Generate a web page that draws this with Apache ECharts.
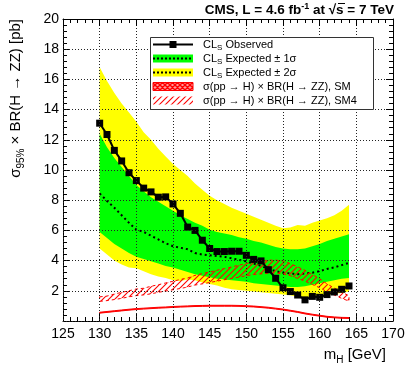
<!DOCTYPE html>
<html>
<head>
<meta charset="utf-8">
<script src="https://cdn.jsdelivr.net/npm/echarts@6/dist/echarts.min.js"></script>
<style>
  html, body { margin: 0; padding: 0; background: #fff; }
  #chart { width: 415px; height: 379px; }
</style>
</head>
<body>
<div id="chart"></div>
<script>
// Higgs mass points, GeV
var mass = [130,131,132,133,134,135,136,137,138,139,140,141,142,143,144,145,146,147,148,149,150,151,152,153,154,155,156,157,158,159,160,161,162,163,164];
// observed CLs limit, pb
var observed = [13.1,12.35,11.3,10.6,9.82,9.3,8.8,8.55,8.2,8.22,7.75,7.13,6.22,6.0,5.35,4.8,4.6,4.6,4.62,4.62,4.35,4.08,3.98,3.4,2.83,2.2,1.95,1.72,1.4,1.63,1.57,1.75,1.92,2.1,2.32];
// expected median and bands
var expMedian = [8.45,7.95,7.5,7.0,6.5,6.05,5.9,5.65,5.4,5.15,4.95,4.85,4.75,4.5,4.4,4.35,4.3,4.25,4.15,4.05,3.95,3.8,3.65,3.45,3.3,3.2,3.15,3.1,3.15,3.2,3.3,3.45,3.55,3.7,3.85];
var exp1Hi = [12.4,11.5,10.8,10.2,9.6,9.0,8.6,8.2,7.9,7.6,7.3,7.0,6.75,6.5,6.3,6.05,5.9,5.8,5.7,5.55,5.45,5.3,5.2,5.05,4.9,4.8,4.75,4.75,4.8,4.95,5.1,5.3,5.45,5.6,5.75];
var exp1Lo = [5.9,5.5,5.1,4.8,4.5,4.25,4.1,3.95,3.8,3.65,3.55,3.4,3.25,3.1,3.0,2.9,2.8,2.75,2.7,2.65,2.6,2.5,2.45,2.4,2.35,2.3,2.25,2.25,2.3,2.4,2.5,2.6,2.7,2.8,2.85];
var exp2Hi = [16.8,15.9,15.1,14.4,13.8,13.2,12.5,12.0,11.4,10.9,10.4,10.0,9.6,9.1,8.7,8.3,8.0,7.75,7.5,7.3,7.1,6.9,6.7,6.5,6.3,6.15,6.2,6.35,6.3,6.5,6.65,6.8,7.0,7.3,7.7];
var exp2Lo = [4.8,4.4,4.0,3.75,3.55,3.5,3.3,3.1,2.95,2.85,2.7,2.65,2.75,2.7,2.55,2.45,2.35,2.2,2.1,2.05,2.0,1.95,1.9,1.85,1.8,1.75,1.7,1.6,1.5,1.55,1.6,1.7,1.8,1.85,1.95];
// sigma x BR, SM and SM4
var smLo = [0.52,0.57,0.62,0.67,0.72,0.76,0.79,0.82,0.85,0.87,0.9,0.92,0.94,0.96,0.97,0.98,0.98,0.98,0.98,0.97,0.95,0.93,0.89,0.85,0.79,0.73,0.65,0.57,0.47,0.39,0.32,0.25,0.21,0.18,0.17];
var smHi = [0.58,0.63,0.68,0.73,0.78,0.82,0.85,0.88,0.91,0.93,0.96,0.98,1.0,1.02,1.03,1.04,1.04,1.04,1.04,1.03,1.01,0.99,0.95,0.91,0.85,0.79,0.71,0.63,0.53,0.45,0.38,0.31,0.27,0.24,0.23];
var sm4Lo = [1.3,1.35,1.42,1.5,1.6,1.68,1.73,1.8,1.9,1.98,2.07,2.15,2.25,2.38,2.46,2.55,2.64,2.73,2.82,2.9,3.0,3.08,3.12,3.17,3.17,3.12,3.0,2.82,2.64,2.42,2.2,1.94,1.72,1.5,1.32];
var sm4Hi = [1.6,1.65,1.78,1.9,2.0,2.12,2.17,2.3,2.4,2.52,2.63,2.75,2.85,3.02,3.14,3.25,3.36,3.47,3.58,3.7,3.8,3.92,3.98,4.03,4.03,3.98,3.8,3.58,3.36,3.08,2.8,2.46,2.18,1.9,1.68];

var FONT = 'Liberation Sans';

function makePattern(cross, size, lw) {
  var c = document.createElement('canvas');
  c.width = size; c.height = size;
  var g = c.getContext('2d');
  var h = size / 2;
  if (cross) { g.fillStyle = 'rgba(255,90,90,0.6)'; g.fillRect(0, 0, size, size); }
  g.strokeStyle = '#ff0000';
  g.lineWidth = lw;
  g.beginPath();
  g.moveTo(0, size); g.lineTo(size, 0);
  g.moveTo(-h, h); g.lineTo(h, -h);
  g.moveTo(h, size + h); g.lineTo(size + h, h);
  if (cross) {
    g.moveTo(0, 0); g.lineTo(size, size);
    g.moveTo(-h, h); g.lineTo(h, size + h);
    g.moveTo(h, -h); g.lineTo(size + h, h);
  }
  g.stroke();
  return c;
}
var hatch = makePattern(false, 6, 1.1);
var crossHatch = makePattern(true, 5, 1.4);

function band(lo, hi, style, z) {
  return {
    type: 'custom', z: z, silent: true, data: [[mass[0], lo[0]]],
    renderItem: function (params, api) {
      var pts = [];
      for (var i = 0; i < mass.length; i++) pts.push(api.coord([mass[i], hi[i]]));
      for (var j = mass.length - 1; j >= 0; j--) pts.push(api.coord([mass[j], lo[j]]));
      return { type: 'polygon', shape: { points: pts }, style: style };
    }
  };
}

function pairs(ys) {
  return mass.map(function (m, i) { return [m, ys[i]]; });
}

var chart = echarts.init(document.getElementById('chart'));

var tickLine = { color: '#000', width: 1 };
var axisBase = function (min, max, interval) {
  return {
    type: 'value', min: min, max: max, interval: interval,
    axisLine: { show: true, onZero: false, lineStyle: { color: '#000', width: 1 } },
    axisTick: { show: true, inside: true, length: 7, lineStyle: tickLine },
    minorTick: { show: true, splitNumber: 5, length: 4, lineStyle: tickLine }
  };
};

var xMain = axisBase(125, 170, 5);
xMain.position = 'bottom';
xMain.axisLabel = { color: '#000', fontSize: 14, fontFamily: FONT, margin: 6 };
xMain.splitLine = { show: false };
var xTop = axisBase(125, 170, 5);
xTop.position = 'top';
xTop.z = 10;
xTop.axisLabel = { show: false };
xTop.splitLine = { show: true, lineStyle: { color: '#222', width: 1, type: [1, 2] } };

var yMain = axisBase(0, 20, 2);
yMain.position = 'left';
yMain.axisLabel = {
  color: '#000', fontSize: 14, fontFamily: FONT, margin: 4,
  formatter: function (v) { return v === 0 ? '' : v; }
};
yMain.splitLine = { show: false };
var yRight = axisBase(0, 20, 2);
yRight.position = 'right';
yRight.z = 10;
yRight.axisLabel = { show: false };
yRight.splitLine = { show: true, lineStyle: { color: '#222', width: 1, type: [1, 2] } };

var legendX = 153, legendW = 40, textX = 203;
var rows = [44.5, 58.5, 72.5, 86.5, 100.5];
var legendText = [
  'CL{s|S} Observed',
  'CL{s|S} Expected ± 1σ',
  'CL{s|S} Expected ± 2σ',
  'σ(pp → H) × BR(H → ZZ), SM',
  'σ(pp → H) × BR(H → ZZ), SM4'
];
var legendRich = {
  s: { fontSize: 8, fontFamily: FONT, verticalAlign: 'bottom', lineHeight: 8 }
};

var graphics = [
  { type: 'rect', left: 150, top: 37, shape: { width: 223, height: 72 },
    style: { fill: '#fff', stroke: '#333', lineWidth: 1 }, z: 20 },
  { type: 'line', shape: { x1: legendX, y1: rows[0], x2: legendX + legendW, y2: rows[0] },
    style: { stroke: '#000', lineWidth: 2 }, z: 21 },
  { type: 'rect', shape: { x: legendX + 16.5, y: rows[0] - 3.5, width: 7, height: 7 },
    style: { fill: '#000' }, z: 21 },
  { type: 'rect', shape: { x: legendX, y: rows[1] - 4, width: legendW, height: 8 },
    style: { fill: '#00ff00' }, z: 21 },
  { type: 'line', shape: { x1: legendX, y1: rows[1], x2: legendX + legendW, y2: rows[1] },
    style: { stroke: '#000', lineWidth: 2, lineDash: [2, 2] }, z: 22 },
  { type: 'rect', shape: { x: legendX, y: rows[2] - 4, width: legendW, height: 8 },
    style: { fill: '#ffff00' }, z: 21 },
  { type: 'line', shape: { x1: legendX, y1: rows[2], x2: legendX + legendW, y2: rows[2] },
    style: { stroke: '#000', lineWidth: 2, lineDash: [2, 2] }, z: 22 },
  { type: 'rect', shape: { x: legendX, y: rows[3] - 4, width: legendW, height: 8 },
    style: { fill: { image: crossHatch, repeat: 'repeat' }, stroke: '#ff0000', lineWidth: 1 }, z: 21 },
  { type: 'rect', shape: { x: legendX, y: rows[4] - 4, width: legendW, height: 8 },
    style: { fill: { image: hatch, repeat: 'repeat' } }, z: 21 },
  // title
  { type: 'text', x: 394, y: 10, z: 20,
    style: { text: 'CMS, L = 4.6 fb{sup|-1} at √s = 7 TeV', align: 'right', verticalAlign: 'middle',
      fontSize: 13.5, fontWeight: 'bold', fontFamily: FONT, fill: '#000', lineHeight: 16,
      rich: { sup: { fontSize: 9, fontWeight: 'bold', fontFamily: FONT, verticalAlign: 'top', lineHeight: 9 } } } },
  // overline of the root sign
  { type: 'line', shape: { x1: 338, y1: 3.5, x2: 345, y2: 3.5 }, style: { stroke: '#000', lineWidth: 1 }, z: 20 },
  // y axis title
  { type: 'text', x: 16, y: 19, rotation: Math.PI / 2, z: 20,
    style: { text: 'σ{s|95%} × BR(H → ZZ) [pb]', align: 'right', verticalAlign: 'middle',
      fontSize: 15, fontFamily: FONT, fill: '#000', lineHeight: 20,
      rich: { s: { fontSize: 10, fontFamily: FONT, verticalAlign: 'bottom', lineHeight: 10 } } } },
  // x axis title
  { type: 'text', x: 386, y: 355, z: 20,
    style: { text: 'm{s|H} [GeV]', align: 'right', verticalAlign: 'middle',
      fontSize: 15, fontFamily: FONT, fill: '#000', lineHeight: 20,
      rich: { s: { fontSize: 10, fontFamily: FONT, verticalAlign: 'bottom', lineHeight: 10 } } } }
];
legendText.forEach(function (t, i) {
  graphics.push({ type: 'text', x: textX, y: rows[i], z: 21,
    style: { text: t, align: 'left', verticalAlign: 'middle', fontSize: 11, fontFamily: FONT,
      fill: '#000', lineHeight: 14, rich: legendRich } });
});

chart.setOption({
  animation: false,
  backgroundColor: '#fff',
  grid: { left: 63, right: 22, top: 19, bottom: 58 },
  xAxis: [xMain, xTop],
  yAxis: [yMain, yRight],
  graphic: graphics,
  series: [
    band(exp2Lo, exp2Hi, { fill: '#ffff00' }, 1),
    band(exp1Lo, exp1Hi, { fill: '#00ff00' }, 2),
    {
      type: 'line', z: 3, data: pairs(expMedian), showSymbol: false, symbol: 'none',
      lineStyle: { color: '#000', width: 2, type: [2, 3] }, silent: true
    },
    band(sm4Lo, sm4Hi, { fill: { image: hatch, repeat: 'repeat' }, stroke: '#ff0000', lineWidth: 1, lineDash: [3, 3] }, 4),
    band(smLo, smHi, { fill: '#ff0000', stroke: '#ff0000', lineWidth: 1 }, 5),
    {
      type: 'line', z: 6, data: pairs(observed), symbol: 'rect', symbolSize: 7,
      itemStyle: { color: '#000' }, lineStyle: { color: '#000', width: 2 }, silent: true
    }
  ]
});
</script>
</body>
</html>
